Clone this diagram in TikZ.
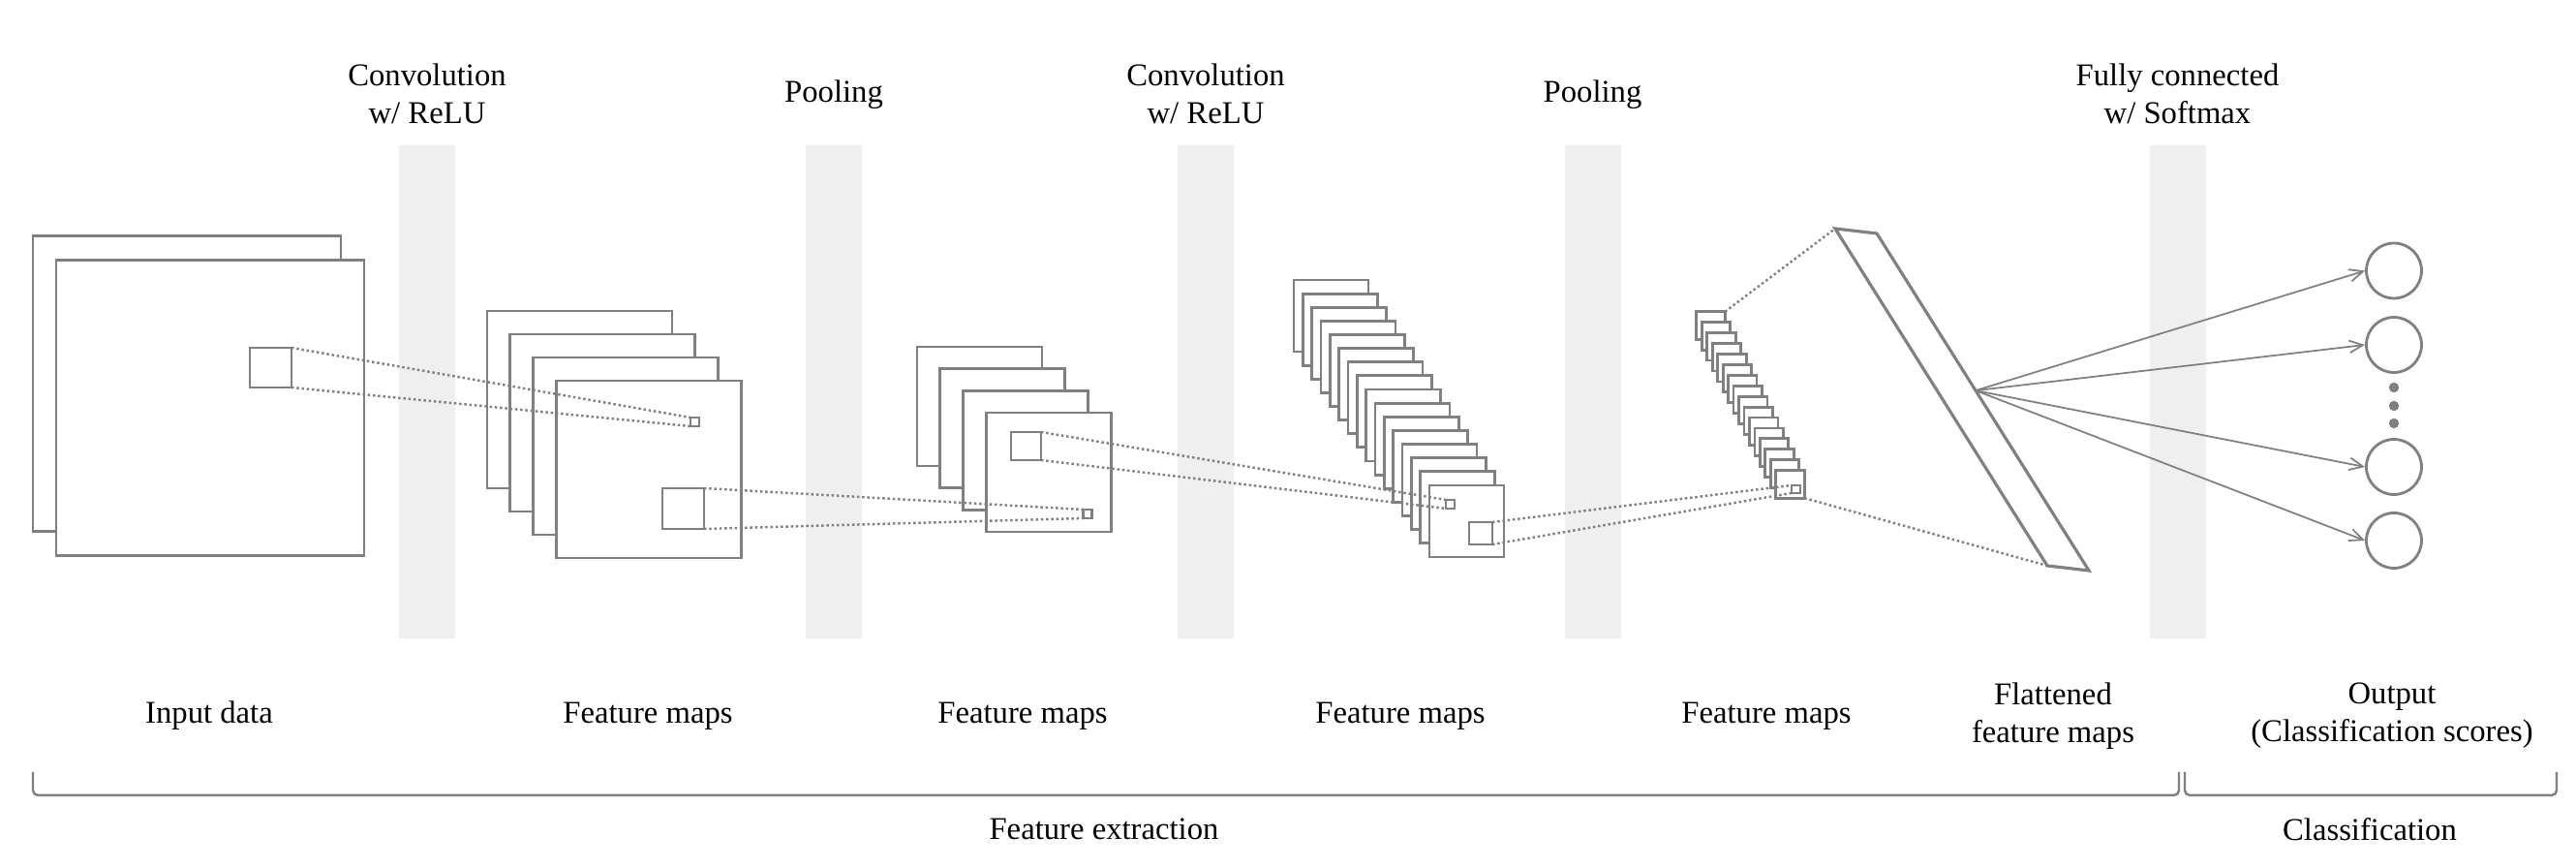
\documentclass[tikz,border=0pt]{standalone}
\usepackage{fontspec}
\setmainfont{Liberation Serif}
\usepackage{tikz}
\usetikzlibrary{arrows.meta, positioning, calc}
\definecolor{linegray}{RGB}{128,128,128}
\definecolor{bandgray}{RGB}{239,239,239}
\tikzset{
  fmap/.style={rectangle, draw=linegray, fill=white, line width=0.8pt,
    inner sep=0pt, outer sep=0pt},
  patch/.style={rectangle, draw=linegray, fill=white, line width=0.8pt,
    inner sep=0pt, outer sep=0pt},
  band/.style={rectangle, fill=bandgray, inner sep=0pt,
    minimum width=0.58cm, minimum height=5.09cm},
  neuron/.style={circle, draw=linegray, fill=white, line width=0.8pt,
    inner sep=0pt, minimum size=0.57cm},
  txt/.style={align=center, font=\fontsize{9.3pt}{11.1pt}\selectfont, inner sep=0pt},
  link/.style={linegray, line width=0.7pt, dash pattern=on 0.7pt off 0.8pt},
  arrow/.style={-{Straight Barb[length=4pt,width=3.6pt]}, linegray, line width=0.5pt},
  brace/.style={linegray, line width=0.7pt, rounded corners=1.5pt}
}

\begin{document}
\begin{tikzpicture}
  \useasboundingbox (0,0) rectangle (26.6,8.96);

  % layer bands
  \node[band] (b1) at (4.41,4.915) {};
  \node[band] (b2) at (8.61,4.915) {};
  \node[band] (b3) at (12.45,4.915) {};
  \node[band] (b4) at (16.445,4.915) {};
  \node[band] (b5) at (22.485,4.915) {};

  \node[txt] (t1) at ([yshift=5.2mm]b1.north) {Convolution\\w/ ReLU};
  \node[txt] (t2) at ([yshift=5.2mm]b2.north) {Pooling};
  \node[txt] (t3) at ([yshift=5.2mm]b3.north) {Convolution\\w/ ReLU};
  \node[txt] (t4) at ([yshift=5.2mm]b4.north) {Pooling};
  \node[txt] (t5) at ([yshift=5.2mm]b5.north) {Fully connected\\w/ Softmax};

  % input data
  \node[fmap, minimum width=3.18cm, minimum height=3.05cm] (in1) at (1.93,5.00) {};
  \node[fmap, minimum width=3.18cm, minimum height=3.05cm] (in2) at (2.17,4.75) {};
  \node[patch, minimum width=0.43cm, minimum height=0.41cm] (insq) at (2.795,5.165) {};

  % feature maps 1
  \foreach \i in {0,...,3}
    \node[fmap, minimum width=1.91cm, minimum height=1.83cm] (fa-\i) at ({5.985+0.237*\i},{4.835-0.24*\i}) {};
  \node[patch, minimum size=0.09cm] (fatiny) at (7.175,4.605) {};
  \node[patch, minimum width=0.43cm, minimum height=0.42cm] (fasq) at (7.055,3.71) {};

  % feature maps 2
  \foreach \i in {0,...,3}
    \node[fmap, minimum width=1.29cm, minimum height=1.23cm] (fb-\i) at ({10.115+0.237*\i},{4.765-0.227*\i}) {};
  \node[patch, minimum width=0.31cm, minimum height=0.29cm] (fbsq) at (10.595,4.355) {};
  \node[patch, minimum size=0.09cm] (fbtiny) at (11.23,3.655) {};

  % feature maps 3
  \foreach \i in {0,...,15}
    \node[fmap, minimum width=0.77cm, minimum height=0.74cm] (fc-\i) at ({13.745+0.0933*\i},{5.70-0.1413*\i}) {};
  \node[patch, minimum size=0.09cm] (fctiny) at (14.975,3.755) {};
  \node[patch, minimum width=0.24cm, minimum height=0.23cm] (fcsq) at (15.29,3.455) {};

  % feature maps 4
  \foreach \i in {0,...,15}
    \node[fmap, minimum width=0.295cm, minimum height=0.285cm] (fd-\i) at ({17.665+0.0547*\i},{5.60-0.1093*\i}) {};
  \node[patch, minimum width=0.09cm, minimum height=0.08cm] (fdtiny) at (18.545,3.91) {};

  % flattened
  \coordinate (fl-nw) at (18.95,6.60);
  \coordinate (fl-ne) at (19.38,6.55);
  \coordinate (fl-se) at (21.57,3.07);
  \coordinate (fl-sw) at (21.14,3.12);
  \draw[linegray, line width=0.9pt, fill=white] (fl-nw) -- (fl-ne) -- (fl-se) -- (fl-sw) -- cycle;
  \coordinate (fl-out) at ($(fl-ne)!0.466!(fl-se)$);

  % output neurons
  \node[neuron] (o1) at (24.72,6.165) {};
  \node[neuron] (o2) at (24.72,5.40) {};
  \node[neuron] (o3) at (24.72,4.14) {};
  \node[neuron] (o4) at (24.72,3.38) {};
  \foreach \y in {4.96,4.77,4.59}
    \fill[linegray] (24.72,\y) circle (0.052);

  % receptive fields
  \draw[link] (insq.north east) -- (fatiny.north west);
  \draw[link] (insq.south east) -- (fatiny.south west);
  \draw[link] (fasq.north east) -- (fbtiny.north west);
  \draw[link] (fasq.south east) -- (fbtiny.south west);
  \draw[link] (fbsq.north east) -- (fctiny.north west);
  \draw[link] (fbsq.south east) -- (fctiny.south west);
  \draw[link] (fcsq.north east) -- (fdtiny.north west);
  \draw[link] (fcsq.south east) -- (fdtiny.south west);
  \draw[link] (fd-0.north east) -- (fl-nw);
  \draw[link] (fd-15.south east) -- (fl-sw);

  % fully connected
  \foreach \o in {o1,o2,o3,o4}
    \draw[arrow] (fl-out) -- (\o.west);

  % labels below
  \node[txt] (lin) at (2.16,1.57) {Input data};
  \node[txt] (lfa) at (6.69,1.57) {Feature maps};
  \node[txt] (lfb) at (10.56,1.57) {Feature maps};
  \node[txt] (lfc) at (14.46,1.57) {Feature maps};
  \node[txt] (lfd) at (18.24,1.57) {Feature maps};
  \node[txt] (lfl) at (21.20,1.57) {Flattened\\feature maps};
  \node[txt] (lout) at (24.70,1.57) {Output\\(Classification scores)};

  % brackets
  \draw[brace] (0.34,0.99) -- (0.34,0.75) -- (22.50,0.75) -- (22.50,0.99);
  \draw[brace] (22.56,0.99) -- (22.56,0.75) -- (26.40,0.75) -- (26.40,0.99);
  \node[txt] (lfe) at (11.40,0.40) {Feature extraction};
  \node[txt] (lcl) at (24.47,0.40) {Classification};
\end{tikzpicture}
\end{document}
